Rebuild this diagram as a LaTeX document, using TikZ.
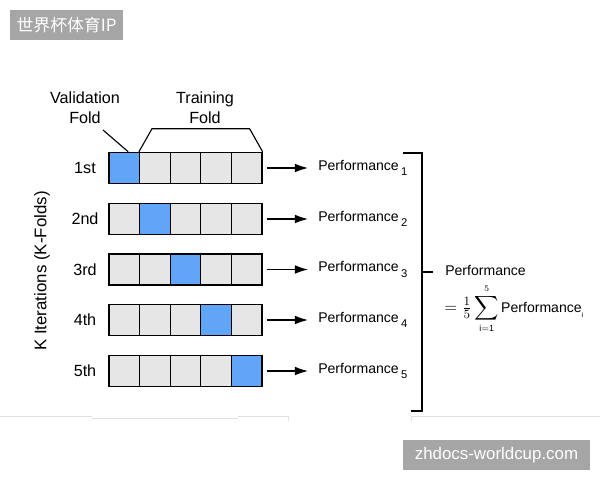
\documentclass[tikz,border=0pt]{standalone}
\usepackage{amsmath}
\usepackage{fontspec}
\setmainfont{Liberation Sans}
\newfontfamily\cjkfont{Noto Sans CJK SC}
\usetikzlibrary{arrows.meta, positioning}
\definecolor{foldblue}{HTML}{60A5F8}
\definecolor{foldgray}{HTML}{E6E6E6}
\definecolor{markgray}{HTML}{A6A6A6}

\begin{document}
\begin{tikzpicture}[x=0.025cm, y=-0.025cm,
  every node/.style={inner sep=0pt, font=\fontsize{11.5}{14.5}\selectfont},
  cell/.style={draw=black, line width=0.9pt, fill=foldgray, minimum width=0.765cm, minimum height=0.78cm},
  perf/.style={anchor=west, font=\fontsize{10}{12}\selectfont},
  arr/.style={line width=0.8pt, -{Latex[length=0.33cm, width=0.22cm]}},
  wmbox/.style={fill=markgray, text=white, font=\fontsize{12}{14}\selectfont}
]
\useasboundingbox (0,0) rectangle (600,480);

% ---- watermarks ----
\node[wmbox, minimum width=2.825cm, minimum height=0.75cm] (wmtop) at (66.5,25) {\cjkfont 世界杯体育IP};
\node[wmbox, minimum width=4.675cm, minimum height=0.75cm] (wmbot) at (496.5,455) {zhdocs-worldcup.com};

% ---- fold labels ----
\node[align=center] (valid) at (85,108) {Validation\\Fold};
\node[align=center] (train) at (205,108) {Training\\Fold};
\node[rotate=90, font=\fontsize{12}{14}\selectfont] (kiter) at (42,271) {K Iterations (K-Folds)};

% ---- rows of folds ----
\foreach \r/\y/\ord in {1/168/1st, 2/219/2nd, 3/269.5/3rd, 4/320/4th, 5/371/5th} {
  \node (ord\r) at (85,\y) {\ord};
  \foreach \c in {1,...,5} {
    \ifnum\c=\r
      \node[cell, fill=foldblue] (c\r\c) at ({124.3+(\c-1)*30.6},\y) {};
    \else
      \node[cell] (c\r\c) at ({124.3+(\c-1)*30.6},\y) {};
    \fi
  }
  \node[perf] (perf\r) at (318,\y) {Performance\,\raisebox{-0.7ex}{\footnotesize\r}};
  \draw[arr, shorten <=0.1cm, shorten >=0.25cm] (c\r5.east) -- (perf\r.west |- c\r5.east);
}

% ---- brackets over the first row ----
\coordinate (vtop) at (103,130);
\draw[line width=0.8pt] (vtop) -- ([xshift=-0.3cm]c11.north east);
\draw[line width=0.8pt] (c12.north west) -- ++(13,-23) -- ([xshift=-0.325cm, yshift=0.575cm]c15.north east) -- (c15.north east);

% ---- summary bracket ----
\coordinate (btop) at (422,153);
\coordinate (bbot) at (422,411);
\coordinate (bmid) at (422,272);
\draw[line width=0.9pt] (403,153) -- (btop) -- (bbot) -- (411,411);
\node[perf] (avg) at (445,270) {Performance};
\node[perf] (avgf) at (444,309) {{\fontsize{12.5}{14}\selectfont$=\tfrac{1}{5}\displaystyle\sum_{\scriptscriptstyle\mathrm{i=1}}^{\scriptscriptstyle 5}$}\,Performance\raisebox{-0.6ex}{\tiny i}};
\draw[line width=0.9pt, shorten >=0.3cm] (bmid) -- (avg.west |- bmid);

% ---- faint page lines ----
\draw[black!12, line width=0.4pt] (0,416) -- (92,416) (92,418) -- (238,418) (238,416) -- (288,416) -- (288,421);
\draw[black!12, line width=0.4pt] (411,421) -- (411,416) -- (600,416);
\end{tikzpicture}
\end{document}
